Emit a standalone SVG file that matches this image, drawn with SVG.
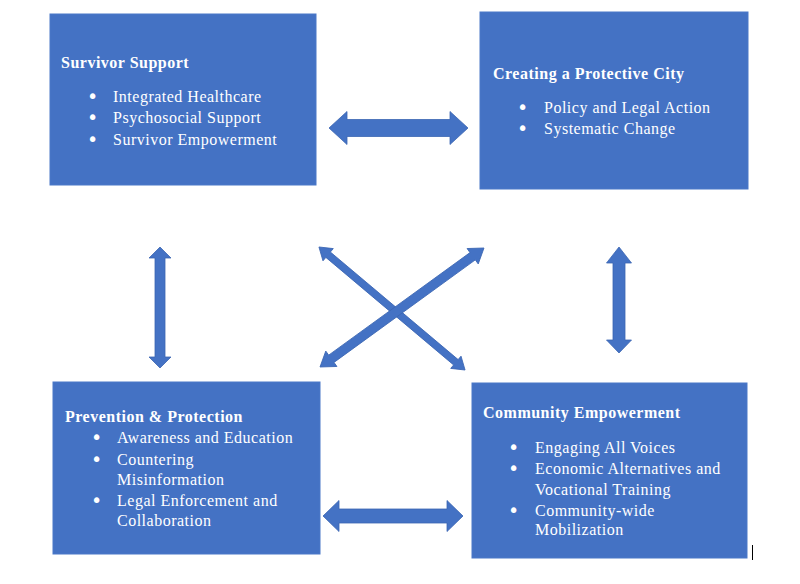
<svg xmlns="http://www.w3.org/2000/svg" width="800" height="584" viewBox="0 0 800 584">
<style>
.box{fill:#4472C4;stroke:#4A78C8;stroke-width:1}
.arr{fill:#4472C4;stroke:#3B66B3;stroke-width:0.8;stroke-linejoin:miter}
text{font-family:"Liberation Serif","Times New Roman",serif;fill:#fff;font-size:16px;letter-spacing:0.5px}
.t{font-weight:bold}
.b{font-size:19px;font-family:"DejaVu Sans",sans-serif;letter-spacing:0}
</style>
<rect width="800" height="584" fill="#fff"/>
<g id="survivor-support">
<rect class="box" x="50" y="14" width="266" height="171"/>
<text class="t" x="61" y="68">Survivor Support</text>
<text class="b" x="87" y="103">•</text><text x="113" y="102">Integrated Healthcare</text>
<text class="b" x="87" y="124">•</text><text x="113" y="123">Psychosocial Support</text>
<text class="b" x="87" y="146">•</text><text x="113" y="145">Survivor Empowerment</text>
</g>
<g id="protective-city">
<rect class="box" x="480" y="12" width="268" height="177"/>
<text class="t" x="493" y="79">Creating a Protective City</text>
<text class="b" x="517" y="114">•</text><text x="544" y="113">Policy and Legal Action</text>
<text class="b" x="517" y="135">•</text><text x="544" y="134">Systematic Change</text>
</g>
<g id="prevention-protection">
<rect class="box" x="53" y="382" width="267" height="172"/>
<text class="t" x="65" y="422">Prevention &amp; Protection</text>
<text class="b" x="91" y="444">•</text><text x="117" y="443">Awareness and Education</text>
<text class="b" x="91" y="466">•</text><text x="117" y="465">Countering</text>
<text x="117" y="485">Misinformation</text>
<text class="b" x="91" y="507">•</text><text x="117" y="506">Legal Enforcement and</text>
<text x="117" y="526">Collaboration</text>
</g>
<g id="community-empowerment">
<rect class="box" x="472" y="383" width="275" height="175"/>
<text class="t" x="483" y="418">Community Empowerment</text>
<text class="b" x="508" y="454">•</text><text x="535" y="453">Engaging All Voices</text>
<text class="b" x="508" y="475">•</text><text x="535" y="474">Economic Alternatives and</text>
<text x="535" y="495">Vocational Training</text>
<text class="b" x="508" y="517">•</text><text x="535" y="516">Community-wide</text>
<text x="535" y="535">Mobilization</text>
</g>
<g id="connectors">
<polygon class="arr" points="329,128 347,111.5 347,119.5 450,119.5 450,111.5 468,128 450,144.5 450,136.5 347,136.5 347,144.5"/>
<polygon class="arr" points="323,516 339,500.5 339,509 447,509 447,500.5 463,516 447,531.5 447,523 339,523 339,531.5"/>
<polygon class="arr" points="160,247 149,258 155,258 155,357 149,357 160,368 171,357 165,357 165,258 171,258"/>
<polygon class="arr" points="619,247 606.5,263 613,263 613,340 606.5,340 619,353 631.5,340 625,340 625,263 631.5,263"/>
<polygon class="arr" transform="translate(392,308.5) rotate(40.1)" points="-95.5,0 -83.5,-8 -83.5,-3.5 83.5,-3.5 83.5,-8 95.5,0 83.5,8 83.5,3.5 -83.5,3.5 -83.5,8"/>
<polygon class="arr" transform="translate(402,307.5) rotate(-35.97)" points="-101.3,0 -87.3,-9.5 -87.3,-4.5 87.3,-4.5 87.3,-9.5 101.3,0 87.3,9.5 87.3,4.5 -87.3,4.5 -87.3,9.5"/>
</g>
<line x1="752.5" y1="545" x2="752.5" y2="560" stroke="#000" stroke-width="1"/>
</svg>
